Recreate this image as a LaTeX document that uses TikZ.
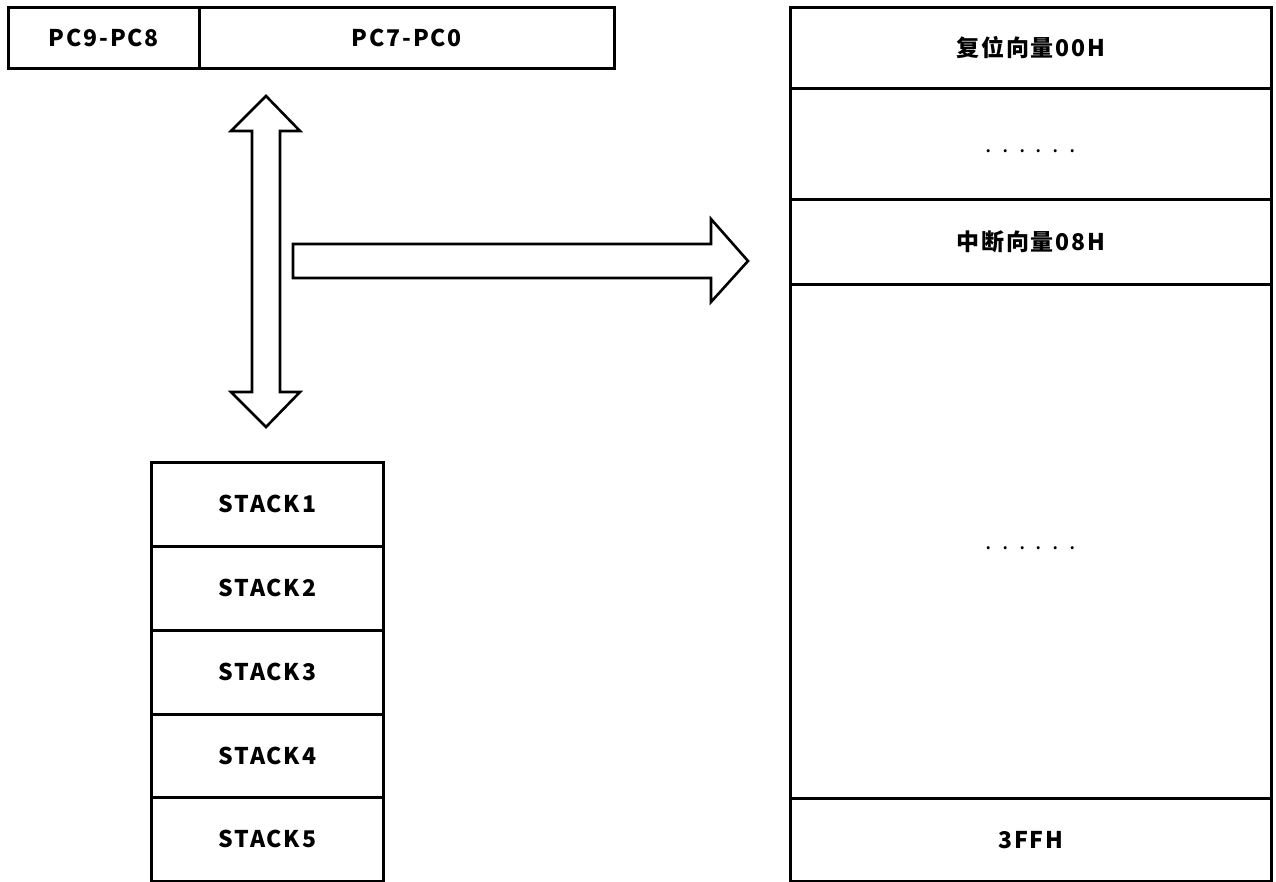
\documentclass[tikz,border=0pt]{standalone}
\usepackage{fontspec}
\setmainfont{Noto Sans CJK SC}[LetterSpace=8]
\begin{document}
\begin{tikzpicture}[x=1pt,y=-1pt,
  cell/.style={draw,line width=2.6pt,rectangle,inner sep=0pt,anchor=north west,
    font=\fontsize{23}{26}\selectfont\bfseries},
  blockarrow/.style={draw,line width=2.6pt,line join=miter,fill=white},
  dots/.style={font=\fontsize{23}{26}\selectfont\addfontfeature{LetterSpace=45}}]
\useasboundingbox (0,0) rectangle (1276,882);
% PC register
\node[cell,minimum width=191pt,minimum height=61pt] (pch) at (7,6) {PC9-PC8};
\node[cell,minimum width=415pt,minimum height=61pt] (pcl) at (198,6) {PC7-PC0};
% memory
\node[cell,minimum width=481pt,minimum height=81pt] (m1) at (789,6) {复位向量00H};
\node[cell,minimum width=481pt,minimum height=111pt] (m2) at (789,87) {};
\node[dots] (d1) at ([yshift=-7pt]m2.center) {......};
\node[cell,minimum width=481pt,minimum height=85pt] (m3) at (789,198) {中断向量08H};
\node[cell,minimum width=481pt,minimum height=514pt] (m4) at (789,283) {};
\node[dots] (d2) at ([yshift=-7pt]m4.center) {......};
\node[cell,minimum width=481pt,minimum height=83pt] (m5) at (789,797) {3FFH};
% stack
\node[cell,minimum width=232pt,minimum height=84pt] (s1) at (150,461) {STACK1};
\node[cell,minimum width=232pt,minimum height=84pt] (s2) at (150,545) {STACK2};
\node[cell,minimum width=232pt,minimum height=84pt] (s3) at (150,629) {STACK3};
\node[cell,minimum width=232pt,minimum height=83pt] (s4) at (150,713) {STACK4};
\node[cell,minimum width=232pt,minimum height=84pt] (s5) at (150,796) {STACK5};
% vertical double arrow
\draw[blockarrow] (266,96) -- (300,131) -- (280,131) -- (280,392) -- (300,392)
  -- (266,427) -- (231,392) -- (252,392) -- (252,131) -- (231,131) -- cycle;
% horizontal arrow
\draw[blockarrow] (293,244) -- (711,244) -- (711,219) -- (748,261) -- (711,302)
  -- (711,278) -- (293,278) -- cycle;
\end{tikzpicture}
\end{document}
